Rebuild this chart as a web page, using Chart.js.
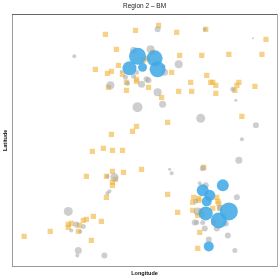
<!DOCTYPE html>
<html lang="en">
<head>
    <meta charset="UTF-8">
    <title>Region 2 - BM</title>
    <script src="https://cdn.jsdelivr.net/npm/chart.js"></script>
    <style>
        html, body { margin: 0; padding: 0; background: #fff; }
        #wrap { width: 280px; height: 280px; }
    </style>
</head>
<body>
    <div id="wrap"><canvas id="mapChart"></canvas></div>

    <script>
        // values, lon/lat in arbitrary map units
        const squareLon = [93,123,104,106,83,95,99,110,114,124,96,114,124,120,99,146,164,193,253,167,189,216,249,159,194,198,178,224,226,242,136,166,200,203,179,222,203,149,155,229,80,91,100,110,129,100,111,74,94,103,100,100,94,81,89,74,71,59,56,56,67,66,38,12,79,191,155,165,187,185,204,180,181,186,188,205,206,200,135,131,140,186,180,185,189,201,207,124];
        const squareLat = [232,236,217,201,197,193,195,192,184,187,179,176,140,135,132,241,234,237,227,211,211,212,212,194,191,184,184,181,184,180,179,175,184,181,175,176,173,169,144,150,115,118,116,116,97,95,94,90,90,87,84,81,69,50,45,47,46,43,42,39,41,35,35,30,26,99,72,54,34,18,69,64,69,66,55,65,63,58,208,206,214,68,56,51,52,44,58,185];
        const greyLon = [62,109,121,113,115,121,124,98,125,145,192,240,138,166,152,151,134,136,129,145,150,188,220,223,243,229,226,95,102,97,95,56,64,71,59,68,66,65,92,190,157,159,187,193,224,183,207,185,184,182,190,192,204,213,215,222,196];
        const greyLat = [210,195,216,189,183,190,194,181,159,237,237,228,217,202,194,200,187,186,182,174,162,148,177,166,141,127,106,90,89,75,73,55,42,40,36,35,16,11,11,98,97,93,83,81,69,65,59,55,44,44,44,38,38,43,31,16,27];
        const greySize = [2,1.5,3.5,2.5,2.5,2.5,2.5,4,5,3,2,1,4,4,3.5,2,3,3,3.5,4,3.5,4.5,2.5,1.5,3,2,3.5,2,4,2,2,4.5,3,2.5,2,2,3.5,2,3,3,1.5,2,2,3,3,2.5,3,4,2.5,3,2.5,3,3,3,3,2.5,3];
        const blueLon = [125,117,130,142,145,210,190,197,194,193,216,206,196];
        const blueLat = [210,198,199,208,197,81,76,71,65,53,55,46,20];
        const blueSize = [8.5,7,4.5,8,8,6,6,5.5,5,7,9,8,5];

        const toPoints = (lon, lat, size) => lon.map((x, i) => ({ x: x, y: lat[i], r: size ? size[i] : 3.7 }));
        const noTicks = { display: false };
        const noGrid = { display: false, drawTicks: false };

        new Chart(document.getElementById('mapChart'), {
            type: 'bubble',
            data: {
                datasets: [
                    { label: 'High', data: toPoints(blueLon, blueLat, blueSize), backgroundColor: 'rgba(66,170,230,0.88)', borderWidth: 0, order: 1 },
                    { label: 'Mid', data: toPoints(greyLon, greyLat, greySize), backgroundColor: 'rgba(165,165,165,0.55)', borderWidth: 0, order: 2 },
                    { label: 'Low', data: toPoints(squareLon, squareLat), pointStyle: 'rect', backgroundColor: 'rgba(240,180,60,0.62)', borderWidth: 0, order: 3 }
                ]
            },
            options: {
                responsive: true,
                maintainAspectRatio: false,
                animation: false,
                layout: { autoPadding: false, padding: { left: 1, right: 3, top: 1, bottom: 3 } },
                plugins: { legend: { display: false }, tooltip: { enabled: false } },
                scales: {
                    x: {
                        min: 0, max: 264, ticks: noTicks, grid: noGrid,
                        border: { color: '#999', width: 1 },
                        title: { display: true, text: 'Longitude', color: '#111', font: { family: 'Liberation Sans', size: 5.5, weight: 'bold' }, padding: { top: 4, bottom: 0 } }
                    },
                    y: {
                        min: 0, max: 252, ticks: noTicks, grid: noGrid,
                        border: { color: '#999', width: 1 },
                        title: { display: true, text: 'Latitude', color: '#111', font: { family: 'Liberation Sans', size: 5.5, weight: 'bold' }, padding: { top: 1, bottom: 3.5 } }
                    },
                    // top and right axes only close the frame, the top one carries the heading
                    x2: {
                        axis: 'x', position: 'top', min: 0, max: 264, ticks: noTicks, grid: noGrid,
                        border: { color: '#666', width: 1 },
                        title: { display: true, text: 'Region 2 \u2013 BM', color: '#222', font: { family: 'Liberation Sans', size: 6.5 }, padding: { top: 1, bottom: 4.5 } }
                    },
                    y2: {
                        axis: 'y', position: 'right', min: 0, max: 252, ticks: noTicks, grid: noGrid,
                        border: { color: '#aaa', width: 1 }
                    }
                }
            }
        });
    </script>
</body>
</html>
